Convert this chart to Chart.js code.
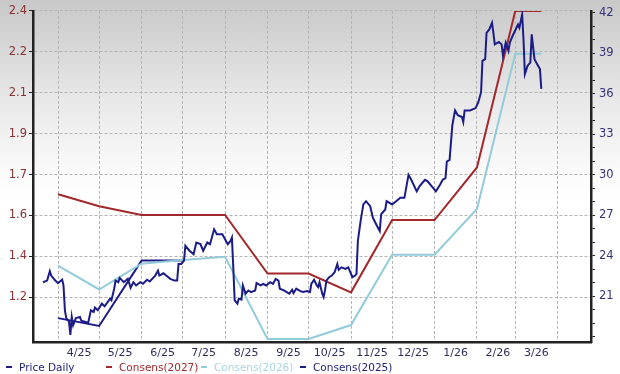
<!DOCTYPE html>
<html>
<head>
<meta charset="utf-8">
<script src="https://cdn.jsdelivr.net/npm/chart.js@4.4.0/dist/chart.umd.min.js"></script>
<style>
    html, body { margin: 0; padding: 0; }
    #wrap {
        position: relative;
        width: 620px;
        height: 374px;
        background: linear-gradient(to bottom, #c8c8c8 0px, #e8e8e8 100px, #fbfbfb 175px, #ffffff 200px, #ffffff 374px);
        font-family: "DejaVu Sans", Verdana, sans-serif;
    }
    #chart { position: absolute; left: 0; top: 0; }
    .legend { position: absolute; top: 361px; font-size: 10.5px; white-space: nowrap; }
    .legend span.mark {
        display: inline-block; width: 6px; height: 2.5px;
        vertical-align: middle; margin-right: 7px; position: relative; top: -1px;
    }
</style>
</head>
<body>
<div id="wrap">
    <canvas id="chart" width="620" height="374"></canvas>
    <div class="legend" style="left:6px;color:#23237a"><span class="mark" style="background:#1c1c87"></span>Price Daily</div>
    <div class="legend" style="left:106px;color:#a3282c"><span class="mark" style="background:#a3282c"></span>Consens(2027)</div>
    <div class="legend" style="left:201px;color:#a9d5e2"><span class="mark" style="background:#93cbdb"></span>Consens(2026)</div>
    <div class="legend" style="left:300px;color:#23237a"><span class="mark" style="background:#1c1c87"></span>Consens(2025)</div>
</div>
<script>
// x values are days counted from 2025-04-01
const monthStarts = [0, 30, 61, 91, 122, 153, 183, 214, 244, 275, 306, 334, 365];
const monthLabels = ["4/25", "5/25", "6/25", "7/25", "8/25", "9/25", "10/25", "11/25", "12/25", "1/26", "2/26", "3/26", ""];

const epsTickLabels = ["1.2", "1.4", "1.6", "1.7", "1.9", "2.1", "2.2", "2.4"];

// consensus estimates (left axis)
const consDays = [0, 30, 61, 91, 122, 153, 183, 214, 244, 275, 306, 334, 353];
const cons2027 = [1.632, 1.582, 1.545, 1.545, 1.545, 1.30, 1.30, 1.221, 1.524, 1.524, 1.744, 2.4, 2.4];
const cons2026 = [1.333, 1.233, 1.341, 1.356, 1.37, 1.026, 1.026, 1.084, 1.379, 1.379, 1.57, 2.22, 2.22];
const cons2025Days = [0, 30, 61, 91];
const cons2025 = [1.113, 1.08, 1.354, 1.354];

// daily price (right axis)
const priceDays = [-11, -8, -6, -5, -2, 0, 3, 4, 5, 6, 8, 9, 10, 11, 13, 16, 17, 22, 24, 26, 27, 29,
    32, 34, 38, 39, 41, 42, 44, 45, 48, 51, 53, 55, 57, 60, 62, 65, 67, 71, 73, 74, 77, 79, 82, 85,
    87, 88, 90, 92, 93, 96, 99, 101, 104, 106, 109, 111, 112, 114, 116, 120, 122, 124, 126, 127,
    128, 129, 131, 132, 134, 135, 137, 139, 141, 144, 145, 148, 150, 152, 155, 157, 159, 161, 162,
    165, 167, 169, 171, 172, 174, 177, 179, 182, 184, 185, 187, 189, 190, 191, 193, 194, 195, 196,
    198, 200, 202, 204, 205, 207, 210, 212, 213, 215, 217, 218, 219, 221, 223, 225, 228, 230, 233,
    235, 236, 239, 240, 244, 247, 250, 253, 256, 258, 262, 264, 268, 270, 273, 276, 279, 281, 283,
    284, 286, 288, 290, 292, 295, 296, 297, 301, 305, 307, 309, 310, 312, 313, 315, 317, 318, 319,
    322, 324, 325, 327, 329, 330, 332, 336, 337, 339, 340, 341, 343, 345, 346, 348, 350, 352, 353];
const priceValues = [22.05, 22.17, 22.86, 22.54, 22.17, 21.98, 22.25, 21.8, 19.97, 19.39, 19.12, 18.14, 19.48, 18.87, 19.39, 19.48, 19.19, 19.04, 19.97, 19.85, 20.17, 19.97,
    20.46, 20.27, 20.83, 20.71, 21.57, 22.17, 22.05, 22.37, 22.05, 22.3, 21.64, 22.05, 21.81, 22.05, 21.93, 22.23, 22.1, 22.54, 22.91, 22.54, 22.71, 22.54, 22.3, 22.17,
    22.17, 23.4, 23.4, 23.65, 24.75, 24.38, 24.13, 24.99, 24.87, 24.38, 24.99, 24.87, 25.24, 25.97, 25.6, 25.6, 25.24, 24.87, 25.11, 25.36,
    23.15, 20.71, 20.46, 20.83, 20.76, 21.81, 21.2, 21.44, 21.32, 21.44, 21.98, 21.81, 21.93, 21.81, 22.05, 21.93, 22.3, 22.17, 21.57,
    21.44, 21.32, 21.2, 21.49, 21.24, 21.57, 21.39, 21.32, 21.39, 21.32, 21.93, 22.23, 21.81, 21.69, 22.05, 21.2, 20.95, 21.44, 22.17,
    22.42, 22.54, 22.79, 23.4, 22.96, 23.15, 23.03, 23.15, 22.91, 22.42, 22.54, 22.67, 25.11, 26.58, 27.81, 28.05, 27.68, 26.82, 26.21,
    25.84, 27.07, 27.44, 28.05, 27.81, 28.05, 28.3, 28.3, 30.0, 29.64, 28.78, 29.15, 29.64, 29.52, 29.15, 28.78, 29.27, 29.64, 29.76,
    30.99, 31.11, 33.68, 34.78, 34.42, 34.29, 33.92, 34.78, 34.78, 34.95, 35.39, 36.13, 38.45, 38.57, 40.53, 40.78, 41.27, 40.53, 39.67,
    39.85, 39.67, 38.82, 39.8, 39.19, 39.8, 40.29, 41.14, 40.9, 41.88, 40.04, 37.47, 38.09, 38.33, 40.41, 38.57, 38.2, 37.84, 36.37];

const navy = "#1c1c87";
const red = "#a3282c";
const lightBlue = "#93cbdb";

function toPoints(xs, ys) {
    return xs.map((x, i) => ({ x: x, y: ys[i] }));
}

const epsMin = 1.013, epsMax = 2.4;
const epsTicks = epsTickLabels.map((l, i) => 1.2 + i * (2.4 - 1.2) / (epsTickLabels.length - 1));

const ctx = document.getElementById("chart").getContext("2d");
new Chart(ctx, {
    type: "line",
    data: {
        datasets: [
            { label: "Price Daily", data: toPoints(priceDays, priceValues), yAxisID: "yPrice", borderColor: navy, borderWidth: 2 },
            { label: "Consens(2027)", data: toPoints(consDays, cons2027), yAxisID: "y", borderColor: red, borderWidth: 2 },
            { label: "Consens(2026)", data: toPoints(consDays, cons2026), yAxisID: "y", borderColor: lightBlue, borderWidth: 2 },
            { label: "Consens(2025)", data: toPoints(cons2025Days, cons2025), yAxisID: "y", borderColor: navy, borderWidth: 2 },
        ],
    },
    options: {
        responsive: false,
        animation: false,
        elements: { point: { radius: 0 }, line: { tension: 0 } },
        layout: { padding: { top: 8, left: 0, right: 0, bottom: 0 } },
        plugins: { legend: { display: false }, tooltip: { enabled: false } },
        scales: {
            x: {
                type: "linear",
                min: -18.3,
                max: 389.3,
                afterBuildTicks: (s) => { s.ticks = monthStarts.map((v) => ({ value: v })); },
                afterFit: (s) => { s.height = 32; },
                ticks: {
                    autoSkip: false,
                    maxRotation: 0,
                    labelOffset: 21,
                    padding: 5,
                    color: "#2e2e5e",
                    font: { family: "DejaVu Sans", size: 11 },
                    callback: (v, i) => monthLabels[i],
                },
                grid: { color: "#b4b4b4", lineWidth: 1, drawTicks: false },
                border: { display: true, color: "#222", width: 2.5, dash: [3, 2] },
            },
            y: {
                position: "left",
                min: epsMin,
                max: epsMax,
                afterBuildTicks: (s) => { s.ticks = epsTicks.map((v) => ({ value: v })); },
                afterFit: (s) => { s.width = 33; },
                ticks: {
                    autoSkip: false,
                    padding: 2,
                    color: "#8a3232",
                    font: { family: "DejaVu Sans", size: 11.5 },
                    callback: (v, i) => epsTickLabels[i],
                },
                grid: { color: "#b4b4b4", lineWidth: 1, tickColor: "#222", tickLength: 4 },
                border: { display: true, color: "#222", width: 2.5, dash: [3, 2] },
            },
            yPrice: {
                position: "right",
                min: 17.62,
                max: 42.15,
                afterBuildTicks: (s) => {
                    const t = [];
                    for (let v = 18; v <= 42; v++) t.push({ value: v });
                    s.ticks = t;
                },
                afterFit: (s) => { s.width = 29; },
                ticks: {
                    autoSkip: false,
                    padding: 4,
                    color: "#34347a",
                    font: { family: "DejaVu Sans", size: 11.5 },
                    callback: (v) => (v % 3 === 0 && v >= 21 ? String(v) : ""),
                },
                grid: { drawOnChartArea: false, tickColor: "#222", tickLength: 4 },
                border: { display: true, color: "#222", width: 2.5 },
            },
        },
    },
});
</script>
</body>
</html>
